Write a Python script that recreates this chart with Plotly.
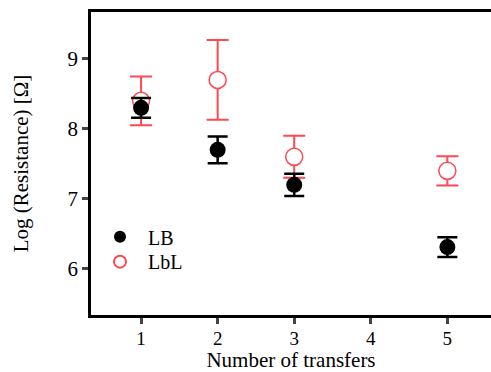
import plotly.graph_objects as go

transfers = [1, 2, 3, 5]
lb_values = [8.30, 7.70, 7.20, 6.31]
lb_errors = [0.14, 0.19, 0.16, 0.14]
lbl_values = [8.40, 8.70, 7.60, 7.40]
lbl_errors = [0.35, 0.57, 0.30, 0.21]
x_ticks = [1, 2, 3, 4, 5]
y_ticks = [6, 7, 8, 9]

RED = "#ff4852"
FONT = "Liberation Serif"

fig = go.Figure()
fig.add_trace(go.Scatter(
    x=transfers, y=lbl_values, mode="markers", name="LbL", legend="legend2",
    marker=dict(symbol="circle", size=17, color="white", line=dict(color=RED, width=1.5)),
    error_y=dict(type="data", array=lbl_errors, color=RED, thickness=2, width=11),
))
fig.add_trace(go.Scatter(
    x=transfers, y=lb_values, mode="markers", name="LB", legend="legend",
    marker=dict(symbol="circle", size=16, color="black", line=dict(color="black", width=0)),
    error_y=dict(type="data", array=lb_errors, color="black", thickness=2.5, width=10),
))

leg_common = dict(xanchor="left", yanchor="middle", bgcolor="rgba(0,0,0,0)",
                  font=dict(size=20), itemsizing="constant", itemwidth=46)

fig.update_layout(
    width=491, height=372,
    margin=dict(l=91, r=0, t=12, b=57),
    plot_bgcolor="white", paper_bgcolor="white",
    font=dict(family=FONT, size=21, color="black"),
    showlegend=True,
    legend=dict(x=0.0025, y=0.258, **leg_common),
    legend2=dict(x=0.0025, y=0.176, **leg_common),
)
fig.update_xaxes(
    range=[0.346, 5.57], tickvals=x_ticks, ticks="outside", ticklen=6, tickwidth=2.5,
    showline=True, linewidth=2.5, linecolor="black", mirror=True, showgrid=False, zeroline=False,
    automargin=False, ticklabelstandoff=-2,
    title=dict(text="Number of transfers", font=dict(size=21), standoff=7),
    tickfont=dict(size=19),
)
fig.update_yaxes(
    range=[5.34, 9.67], tickvals=y_ticks, ticks="outside", ticklen=6, tickwidth=2.5,
    showline=True, linewidth=2.5, linecolor="black", mirror=False, showgrid=False, zeroline=False,
    automargin=False,
    title=dict(text="Log (Resistance) [Ω]", font=dict(size=21), standoff=34),
    tickfont=dict(size=21),
)

fig.write_html("out.html", config={"displayModeBar": False},
               post_script="document.body.style.margin='0';")
